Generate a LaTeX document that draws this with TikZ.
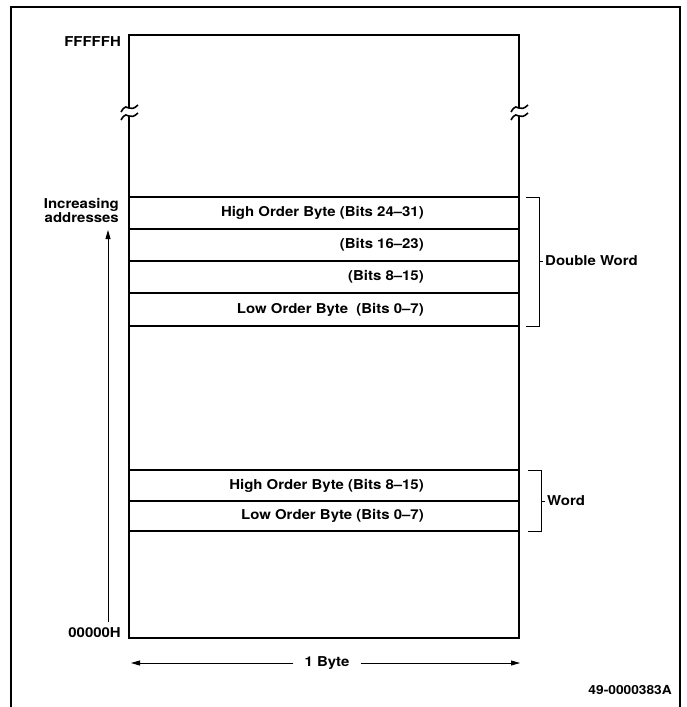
\documentclass[tikz,border=0pt]{standalone}
\usepackage{fontspec}
\setmainfont{TeX Gyre Heros}[FakeStretch=1.1]
\usepackage{tikz}
\usetikzlibrary{arrows.meta, calc}

\begin{document}
\begin{tikzpicture}[x=1pt, y=-1pt, line join=miter,
    rowtext/.style={anchor=east, inner sep=0pt, font=\fontsize{13.6}{15}\selectfont\bfseries},
    sidetext/.style={anchor=west, inner sep=0pt, font=\fontsize{13.6}{15}\selectfont\bfseries},
    addrtext/.style={anchor=east, inner sep=0pt, font=\fontsize{13.6}{15}\selectfont\bfseries},
    memline/.style={line width=1.6pt},
    brace/.style={line width=0.8pt}]
  \useasboundingbox (0,0) rectangle (686,707);

  % Outer frame (open at the bottom)
  \draw[line width=1.6pt] (11,707) -- (11,7) -- (680,7) -- (680,707);

  % Corners of the memory column
  \coordinate (TL) at (129,35);
  \coordinate (TR) at (519,35);
  \coordinate (BL) at (129,638);
  \coordinate (BR) at (519,638);

  % Top part and break marks
  \draw[memline] (129,106) -- (TL) -- (TR) -- (519,106);
  \foreach \x in {129,519} {
    \draw[line width=1.6pt] (\x,105) -- (\x,108);
    \draw[line width=1.6pt] (\x-8,112) .. controls (\x-4,105) and (\x-2,107) .. (\x,108)
      .. controls (\x+2,109) and (\x+5,109) .. (\x+9,105);
    \draw[line width=1.6pt] (\x-8,120) .. controls (\x-4,113) and (\x-2,115) .. (\x,116)
      .. controls (\x+2,117) and (\x+5,117) .. (\x+9,113);
    \draw[memline] (\x,116) -- (\x,122);
  }
  \draw[memline] (129,121) -- (BL) -- (BR) -- (519,121);

  % Byte rows
  \foreach \y in {197,229,261,293,326,470,501,531}
    \draw[memline] (129,\y) -- (519,\y);

  % Row labels
  \node[rowtext] (dw3) at (424,213) {High Order Byte (Bits 24--31)};
  \node[rowtext] (dw2) at (424,245) {(Bits 16--23)};
  \node[rowtext] (dw1) at (424,277) {(Bits 8--15)};
  \node[rowtext] (dw0) at (424,310) {Low Order Byte\ \ (Bits 0--7)};
  \node[rowtext] (w1) at (424,486) {High Order Byte (Bits 8--15)};
  \node[rowtext] (w0) at (424,516) {Low Order Byte (Bits 0--7)};

  % Brackets
  \draw[brace] (526,197) -- (539,197) -- (539,326) -- (526,326);
  \draw[brace] (539,261) -- (543,261);
  \node[sidetext] (dword) at (545,261) {Double Word};
  \draw[brace] (528,470) -- (541,470) -- (541,531) -- (528,531);
  \draw[brace] (541,501) -- (545,501);
  \node[sidetext] (word) at (547,501) {Word};

  % Address labels
  \node[addrtext] (high) at (121,42) {FFFFFH};
  \node[addrtext] (low) at (121,633) {00000H};
  \node[addrtext, align=right] (incr) at (119,210.5) {Increasing\\[-1pt]addresses};
  \coordinate (upfoot) at (108,622);
  \coordinate (uptip) at (108,230);
  \draw[line width=0.8pt, -{Triangle[length=9pt, width=5pt]}] (upfoot) -- (uptip);

  % Width of one byte
  \coordinate (bytel) at (131,663);
  \coordinate (byter) at (520,663);
  \node[font=\fontsize{13.6}{15}\selectfont\bfseries, inner sep=0pt] (byte) at (327,663) {1 Byte};
  \draw[line width=0.8pt, -{Triangle[length=9pt, width=5pt]}] ($(byte.west)+(-11,0)$) -- (bytel);
  \draw[line width=0.8pt, -{Triangle[length=9pt, width=5pt]}] ($(byte.east)+(11,0)$) -- (byter);

  % Figure number
  \node[addrtext, font=\fontsize{12.5}{14}\selectfont\bfseries] (fignum) at (672,690) {49-0000383A};
\end{tikzpicture}
\end{document}
